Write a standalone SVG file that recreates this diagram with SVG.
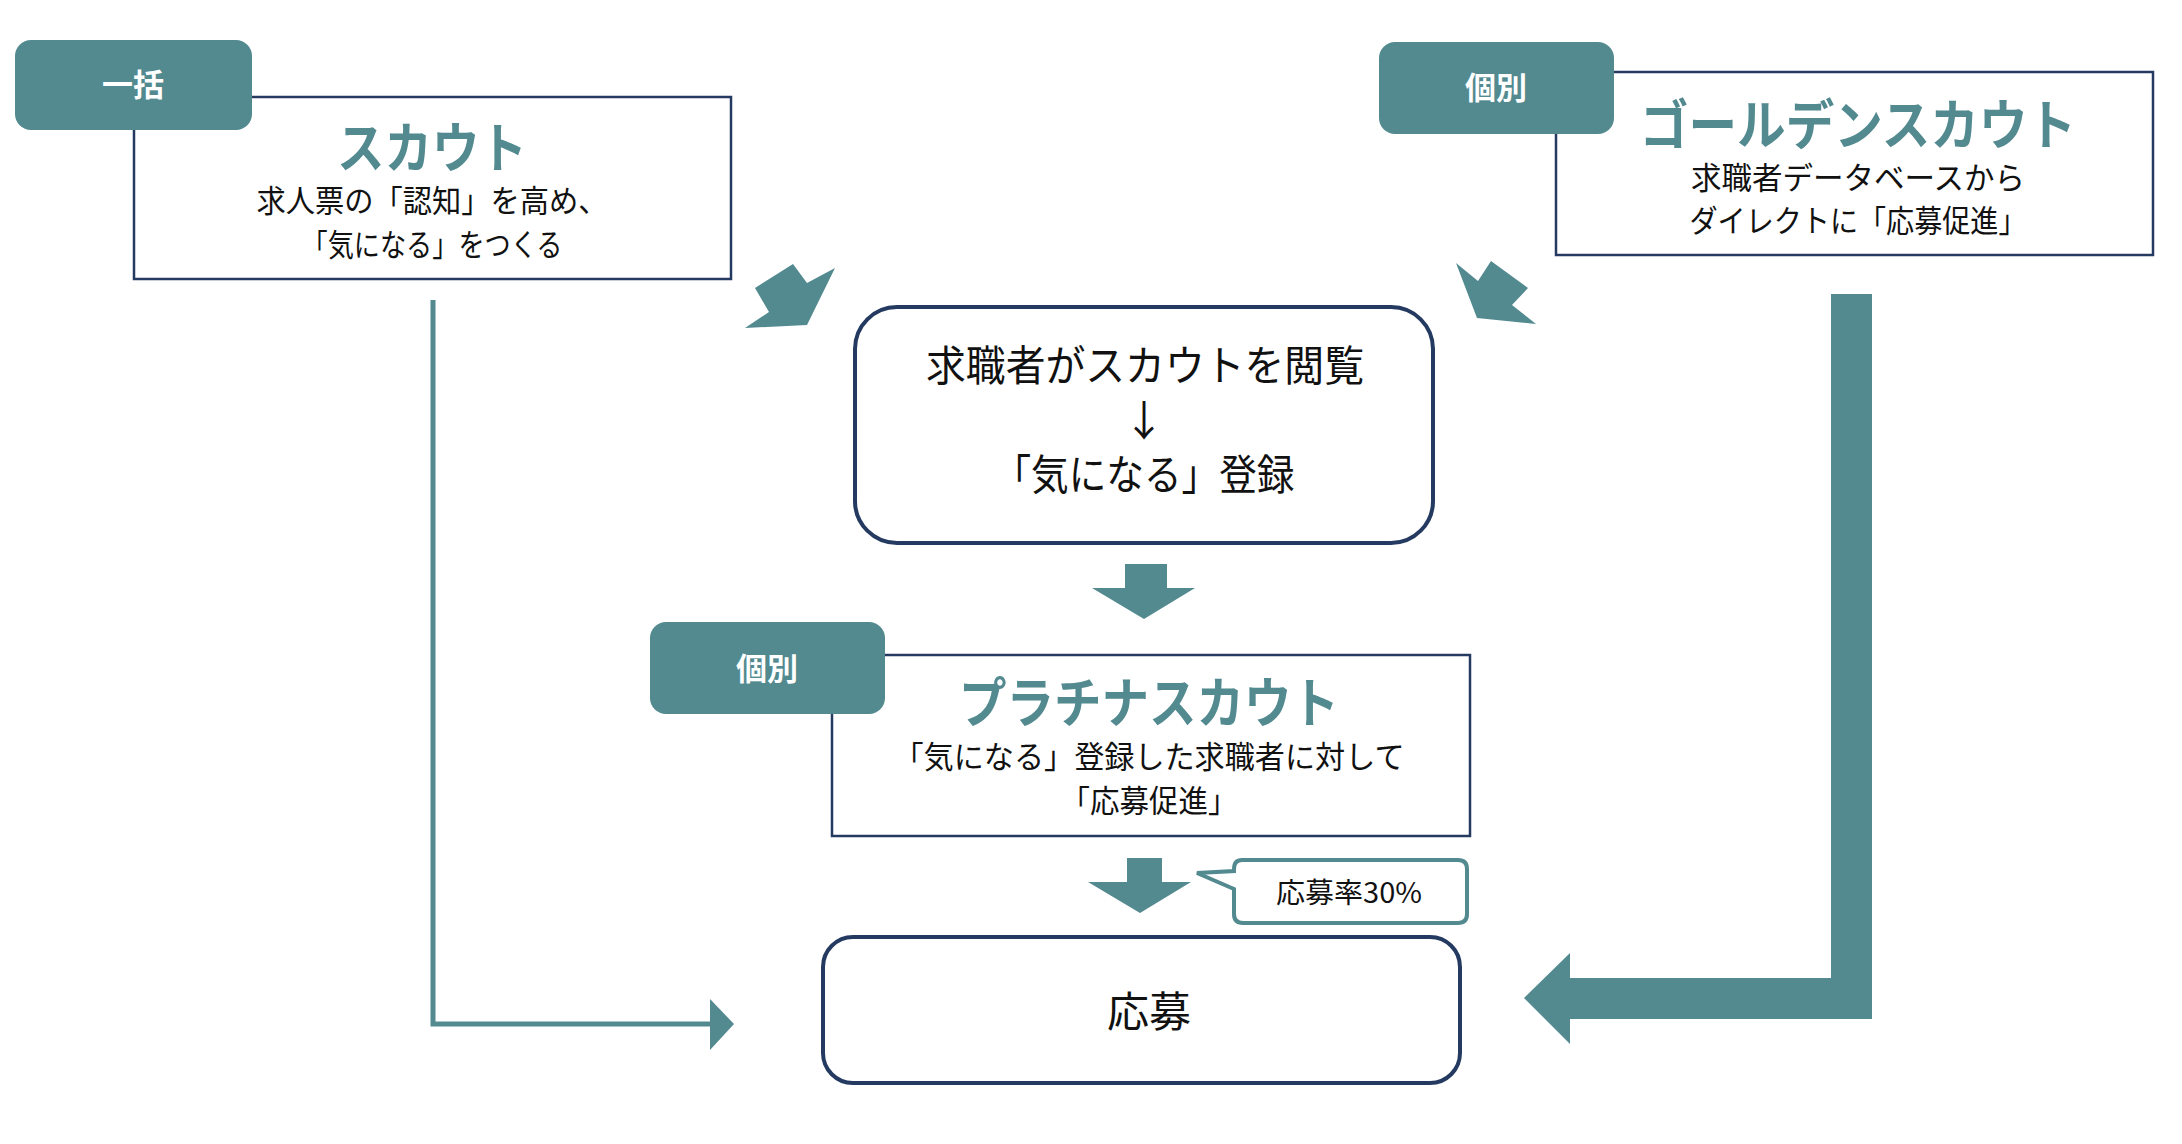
<svg xmlns="http://www.w3.org/2000/svg" width="2182" height="1144" viewBox="0 0 2182 1144">
<style>
text{font-family:"Noto Sans CJK JP","Noto Sans",sans-serif;text-anchor:middle;}
.tag{fill:#528A90;}
.tagt{fill:#fff;font-size:31px;font-weight:bold;}
.box{fill:#fff;stroke:#243A60;stroke-width:2.5;}
.rbox{fill:#fff;stroke:#243A60;stroke-width:4;}
.title{fill:#528A90;font-size:54px;font-weight:bold;}
.body{fill:#111;font-size:31px;}
.big{fill:#111;font-size:42px;}
.teal{fill:#528A90;}
</style>
<rect width="2182" height="1144" fill="#fff"/>
<g id="scout">
<rect class="box" x="134" y="97" width="597" height="182"/>
<rect class="tag" x="15" y="40" width="237" height="90" rx="16"/>
<text class="tagt" x="133" y="96">一括</text>
<text class="title" x="432" y="168" textLength="190" lengthAdjust="spacingAndGlyphs">スカウト</text>
<text class="body" x="432" y="212" textLength="351" lengthAdjust="spacingAndGlyphs">求人票の「認知」を高め、</text>
<text class="body" x="432" y="256" textLength="261" lengthAdjust="spacingAndGlyphs">「気になる」をつくる</text>
</g>
<g id="golden">
<rect class="box" x="1556" y="72" width="597" height="183"/>
<rect class="tag" x="1379" y="42" width="235" height="92" rx="16"/>
<text class="tagt" x="1496" y="99">個別</text>
<text class="title" x="1858" y="145" textLength="436" lengthAdjust="spacingAndGlyphs">ゴールデンスカウト</text>
<text class="body" x="1858" y="189" textLength="334" lengthAdjust="spacingAndGlyphs">求職者データベースから</text>
<text class="body" x="1858" y="232" textLength="337" lengthAdjust="spacingAndGlyphs">ダイレクトに「応募促進」</text>
</g>
<g id="view">
<rect class="rbox" x="855" y="307" width="578" height="236" rx="42"/>
<text class="big" x="1145" y="381" textLength="438" lengthAdjust="spacingAndGlyphs">求職者がスカウトを閲覧</text>
<text class="big" x="1144" y="436">↓</text>
<text class="big" x="1144" y="490" textLength="301" lengthAdjust="spacingAndGlyphs">「気になる」登録</text>
</g>
<g id="platinum">
<rect class="box" x="832" y="655" width="638" height="181"/>
<rect class="tag" x="650" y="622" width="235" height="92" rx="16"/>
<text class="tagt" x="767" y="680">個別</text>
<text class="title" x="1149" y="723" textLength="380" lengthAdjust="spacingAndGlyphs">プラチナスカウト</text>
<text class="body" x="1149" y="768" textLength="511" lengthAdjust="spacingAndGlyphs">「気になる」登録した求職者に対して</text>
<text class="body" x="1149" y="812" textLength="177" lengthAdjust="spacingAndGlyphs">「応募促進」</text>
</g>
<g id="rate">
<path d="M1242,860 H1458 Q1467,860 1467,869 V914 Q1467,923 1458,923 H1243 Q1234,923 1234,914 V889 L1197,873 L1234,871 V869 Q1234,860 1242,860 Z" fill="#fff" stroke="#528A90" stroke-width="4"/>
<text x="1349" y="903" style="fill:#111;font-size:28px" textLength="146" lengthAdjust="spacingAndGlyphs">応募率30%</text>
</g>
<g id="apply">
<rect class="rbox" x="823" y="937" width="637" height="146" rx="30"/>
<text class="big" x="1149" y="1027">応募</text>
</g>
<g id="connectors">
<polygon class="teal" points="793,264 807,283 835,268 807,325 745,328 769,312 755,288"/>
<polygon class="teal" points="1491,261 1528,288 1512,305 1536,324 1477,318 1456,263 1478,281"/>
<polygon class="teal" points="1125,564 1167,564 1167,588 1195,588 1144,619 1092,588 1125,588"/>
<polygon class="teal" points="1127,858 1162,858 1162,882 1191,882 1140,913 1088,882 1127,882"/>
<polyline points="433,300 433,1024 712,1024" fill="none" stroke="#528A90" stroke-width="5"/>
<polygon class="teal" points="710,999 734,1024 710,1050"/>
<polygon class="teal" points="1831,294 1872,294 1872,1019 1570,1019 1570,1044 1524,998 1570,953 1570,978 1831,978"/>
</g>
</svg>
